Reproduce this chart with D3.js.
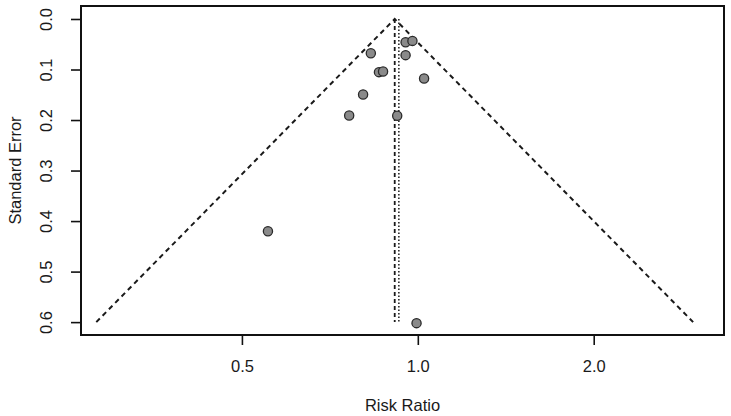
<!DOCTYPE html>
<html><head><meta charset="utf-8">
<script src="https://cdn.jsdelivr.net/npm/d3@7"></script>
<style>
html,body{margin:0;padding:0;background:#fff;}
svg text{font-family:"Liberation Sans",Arial,sans-serif;fill:#1a1a1a;}
</style></head>
<body><svg id="chart" width="731" height="416"></svg>
<script>
// Study data: risk ratios and standard errors
const riskRatio = [0.953, 0.979, 0.831, 0.953, 0.858, 0.872, 1.025, 0.806, 0.763, 0.922, 0.554, 0.995];
const stdError  = [0.046, 0.0434, 0.0677, 0.0716, 0.1052, 0.104, 0.1178, 0.1494, 0.191, 0.1914, 0.42, 0.602];
const fixedEst = 0.913;   // common effect (dashed)
const randomEst = 0.928;  // random effects (dotted)
const seMax = 0.6;
const xTicks = [0.5, 1.0, 2.0];
const yTicks = [0.0, 0.1, 0.2, 0.3, 0.4, 0.5, 0.6];
const xLabel = "Risk Ratio";
const yLabel = "Standard Error";

const svg = d3.select("#chart");
const L = 81, R = 724, T = 6, B = 335;
const x = d3.scaleLog().domain([0.2652, 3.342]).range([L, R]);
const y = d3.scaleLinear().domain([-0.0257, 0.6255]).range([T, B]);

// funnel triangle
const lf = Math.log(fixedEst);
const tri = [
  [Math.exp(lf - 1.96 * seMax), seMax],
  [fixedEst, 0],
  [Math.exp(lf + 1.96 * seMax), seMax]
];
svg.append("path")
  .attr("d", d3.line().x(d => x(d[0])).y(d => y(d[1]))(tri))
  .attr("fill", "none").attr("stroke", "#1a1a1a").attr("stroke-width", 2)
  .attr("stroke-dasharray", "5,4");

// reference lines
svg.append("line").attr("x1", x(fixedEst)).attr("x2", x(fixedEst))
  .attr("y1", y(0)).attr("y2", y(seMax))
  .attr("stroke", "#1a1a1a").attr("stroke-width", 1.8).attr("stroke-dasharray", "4,3");
svg.append("line").attr("x1", x(randomEst)).attr("x2", x(randomEst))
  .attr("y1", y(0)).attr("y2", y(seMax))
  .attr("stroke", "#1a1a1a").attr("stroke-width", 1.5).attr("stroke-dasharray", "1.5,2");

// points
svg.append("g").selectAll("circle").data(riskRatio).join("circle")
  .attr("cx", d => x(d))
  .attr("cy", (d, i) => y(stdError[i]))
  .attr("r", 4.6)
  .attr("fill", "#8a8a8a").attr("stroke", "#2a2a2a").attr("stroke-width", 1.3);

// box
svg.append("rect").attr("x", L).attr("y", T).attr("width", R - L).attr("height", B - T)
  .attr("fill", "none").attr("stroke", "#111").attr("stroke-width", 2);

// x axis
const xa = svg.append("g").attr("transform", `translate(0,${B})`)
  .call(d3.axisBottom(x).tickValues(xTicks).tickFormat(d3.format(".1f")).tickSize(10).tickPadding(15));
xa.select(".domain").remove();
xa.selectAll(".tick line").attr("stroke", "#111").attr("stroke-width", 1.6);
xa.selectAll(".tick text").attr("font-size", 16.5).attr("fill", "#1a1a1a")
  .style("font-family", "'Liberation Sans', Arial, sans-serif");

// y axis
const ya = svg.append("g").attr("transform", `translate(${L},0)`)
  .call(d3.axisLeft(y).tickValues(yTicks).tickFormat(d3.format(".1f")).tickSize(10));
ya.select(".domain").remove();
ya.selectAll(".tick line").attr("stroke", "#111").attr("stroke-width", 1.6);
ya.selectAll(".tick text")
  .attr("x", 0).attr("dy", null)
  .attr("transform", "translate(-35,0) rotate(-90)")
  .attr("text-anchor", "middle").attr("dominant-baseline", "central")
  .attr("font-size", 16.5).attr("fill", "#1a1a1a")
  .style("font-family", "'Liberation Sans', Arial, sans-serif");

// titles
svg.append("text").attr("x", (L + R) / 2).attr("y", 411)
  .attr("text-anchor", "middle").attr("font-size", 16.5).text(xLabel);
svg.append("text").attr("transform", `translate(21,${(T + B) / 2}) rotate(-90)`)
  .attr("text-anchor", "middle").attr("font-size", 16.5).text(yLabel);
</script></body></html>
